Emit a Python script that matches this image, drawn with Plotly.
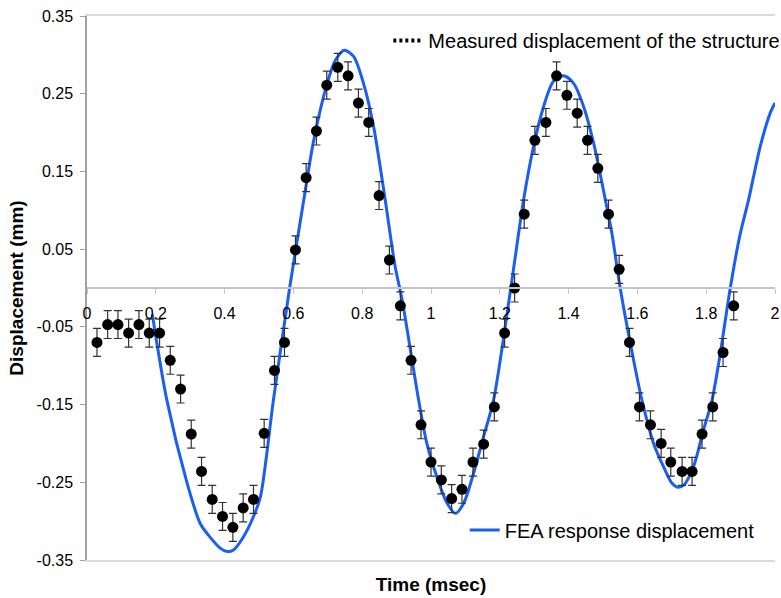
import plotly.graph_objects as go

# Measured displacement (time in msec, displacement in mm)
meas_t = [0.029, 0.060, 0.090, 0.121, 0.151, 0.181, 0.211, 0.242, 0.272, 0.303,
          0.333, 0.364, 0.394, 0.424, 0.454, 0.484, 0.515, 0.545, 0.574, 0.606,
          0.637, 0.667, 0.697, 0.729, 0.759, 0.789, 0.819, 0.849, 0.879, 0.911,
          0.942, 0.971, 1.000, 1.030, 1.060, 1.090, 1.122, 1.153, 1.184, 1.214,
          1.243, 1.271, 1.302, 1.334, 1.365, 1.395, 1.425, 1.455, 1.485, 1.516,
          1.547, 1.577, 1.606, 1.638, 1.669, 1.697, 1.730, 1.759, 1.788, 1.819,
          1.849, 1.880]
meas_d = [-0.070, -0.047, -0.047, -0.058, -0.047, -0.058, -0.058, -0.093, -0.130, -0.188,
          -0.236, -0.272, -0.294, -0.308, -0.283, -0.272, -0.187, -0.106, -0.070, 0.049,
          0.142, 0.202, 0.261, 0.284, 0.273, 0.238, 0.213, 0.119, 0.036, -0.023,
          -0.093, -0.176, -0.224, -0.247, -0.271, -0.259, -0.224, -0.201, -0.153, -0.058,
          0.000, 0.095, 0.190, 0.213, 0.273, 0.248, 0.225, 0.190, 0.154, 0.095,
          0.024, -0.070, -0.153, -0.176, -0.200, -0.224, -0.236, -0.236, -0.188, -0.153,
          -0.083, -0.023]
meas_err = 0.018

# FEA response displacement
fea_t = [0.190, 0.232, 0.291, 0.329, 0.353, 0.388, 0.407, 0.426, 0.455, 0.484,
         0.504, 0.542, 0.589, 0.630, 0.659, 0.698, 0.722, 0.748, 0.775, 0.804,
         0.833, 0.867, 0.896, 0.916, 0.964, 0.988, 1.017, 1.047, 1.071, 1.095,
         1.124, 1.153, 1.182, 1.232, 1.269, 1.298, 1.327, 1.356, 1.386, 1.415,
         1.444, 1.473, 1.507, 1.526, 1.550, 1.589, 1.613, 1.647, 1.676, 1.700,
         1.715, 1.734, 1.763, 1.792, 1.817, 1.841, 1.870, 1.899, 1.923, 1.957,
         1.986, 2.000]
fea_d = [-0.034, -0.144, -0.251, -0.303, -0.318, -0.335, -0.339, -0.337, -0.320, -0.294,
         -0.269, -0.144, 0.000, 0.113, 0.190, 0.263, 0.293, 0.306, 0.298, 0.263,
         0.208, 0.113, 0.027, -0.015, -0.144, -0.200, -0.243, -0.277, -0.290, -0.277,
         -0.238, -0.191, -0.144, 0.000, 0.113, 0.182, 0.233, 0.266, 0.273, 0.263,
         0.233, 0.186, 0.113, 0.070, 0.000, -0.093, -0.144, -0.200, -0.230, -0.251,
         -0.256, -0.254, -0.230, -0.183, -0.144, -0.084, 0.000, 0.070, 0.113, 0.182,
         0.225, 0.238]

x_ticks = [0, 0.2, 0.4, 0.6, 0.8, 1.0, 1.2, 1.4, 1.6, 1.8, 2.0]
x_labels = ["0", "0.2", "0.4", "0.6", "0.8", "1", "1.2", "1.4", "1.6", "1.8", "2"]
y_ticks = [0.35, 0.25, 0.15, 0.05, -0.05, -0.15, -0.25, -0.35]
y_labels = ["0.35", "0.25", "0.15", "0.05", "-0.05", "-0.15", "-0.25", "-0.35"]

FONT = "Liberation Sans, Arial, sans-serif"
BLUE = "#1a5ef2"

fig = go.Figure()

fig.add_trace(go.Scatter(
    x=fea_t, y=fea_d, mode="lines",
    line=dict(color=BLUE, width=3, shape="spline", smoothing=0.8),
    name="FEA response displacement", legend="legend2"))

fig.add_trace(go.Scatter(
    x=meas_t, y=meas_d, mode="markers",
    marker=dict(color="black", size=11),
    error_y=dict(type="constant", value=meas_err, color="#333333",
                 thickness=1.2, width=4),
    name="Measured displacement of the structure", showlegend=False))

# legend entry for the measured series (dotted symbol)
fig.add_trace(go.Scatter(
    x=[None], y=[None], mode="lines",
    line=dict(color="black", width=4, dash="3px,3px"),
    name="Measured displacement of the structure", legend="legend"))

fig.update_layout(
    width=781, height=598,
    margin=dict(l=87, r=6, t=16, b=38, autoexpand=False),
    paper_bgcolor="white", plot_bgcolor="white",
    font=dict(family=FONT, size=16, color="black"),
    xaxis=dict(range=[0, 2], anchor="free", position=0.5, automargin=False,
               tickvals=x_ticks, ticktext=x_labels,
               showline=True, linecolor="#c4c4c4", linewidth=1.5,
               ticks="outside", ticklen=5, tickcolor="#c4c4c4",
               ticklabelstandoff=6,
               showgrid=False, zeroline=False,
               tickfont=dict(size=16)),
    xaxis2=dict(range=[0, 2], overlaying="x", anchor="y", side="bottom",
                automargin=False,
                showline=True, mirror=True, linecolor="#dcdcdc", linewidth=1.5,
                showticklabels=False, ticks="", showgrid=False, zeroline=False,
                title=dict(text="<b>Time (msec)</b>", font=dict(size=19), standoff=17)),
    yaxis=dict(range=[-0.35, 0.35], tickvals=y_ticks, ticktext=y_labels,
               automargin=False,
               showline=True, linecolor="#a0a0a0", linewidth=1.5,
               ticks="outside", ticklen=5, tickcolor="#a0a0a0",
               ticklabelstandoff=4,
               showgrid=False, zeroline=False,
               tickfont=dict(size=16),
               title=dict(text="<b>Displacement (mm)</b>", font=dict(size=19), standoff=8)),
    legend=dict(x=0.438, y=0.955, xanchor="left", yanchor="middle",
                bgcolor="rgba(0,0,0,0)", font=dict(size=20)),
    legend2=dict(x=0.549, y=0.055, xanchor="left", yanchor="middle",
                 bgcolor="rgba(0,0,0,0)", font=dict(size=20)),
    showlegend=True,
)

# xaxis2 needs a (hidden) trace to be drawn
fig.add_trace(go.Scatter(x=[None], y=[None], xaxis="x2", showlegend=False,
                         hoverinfo="skip"))

fig.write_html("out.html",
               config={"displayModeBar": False},
               post_script="document.body.style.margin='0';document.body.style.overflow='hidden';")
